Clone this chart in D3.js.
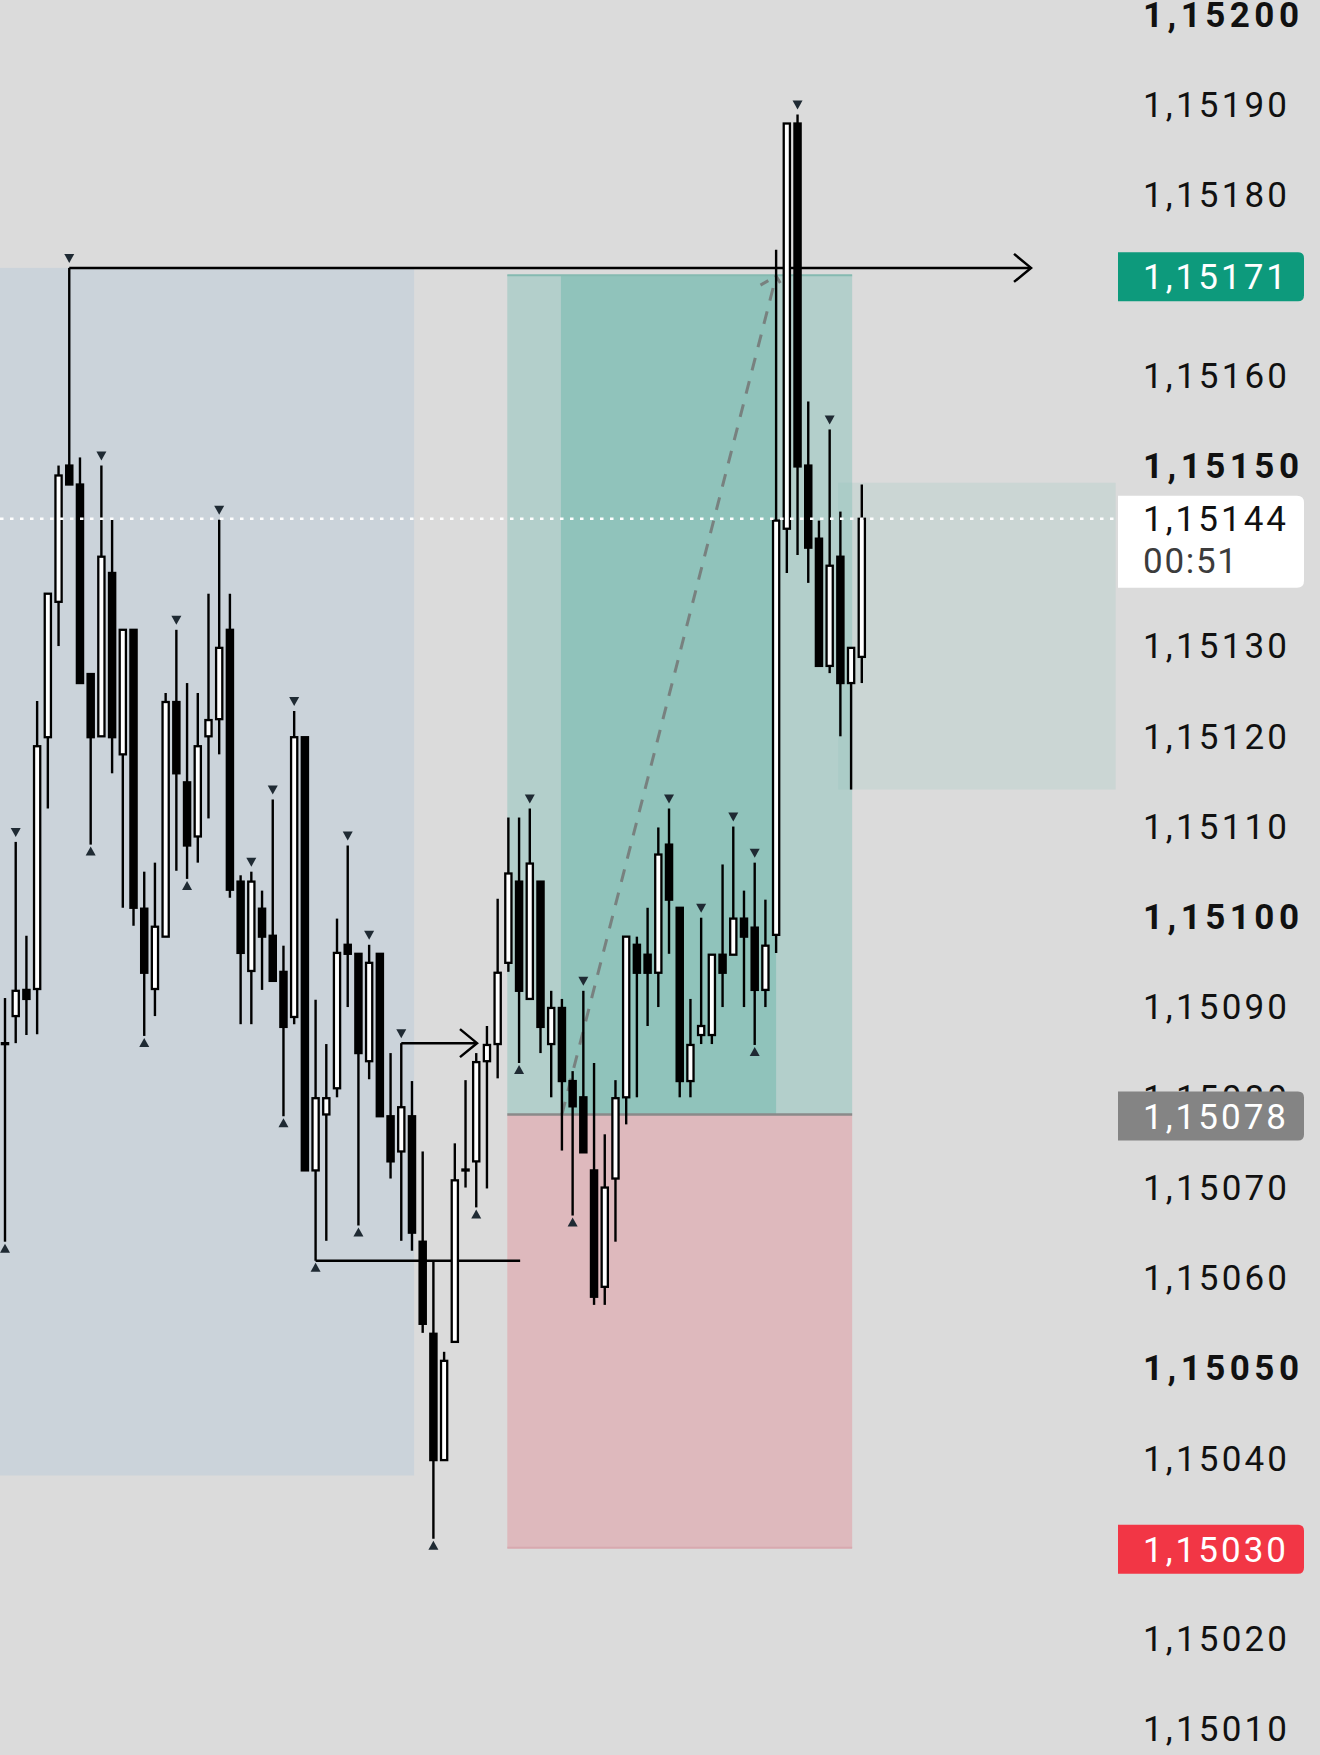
<!DOCTYPE html>
<html><head><meta charset="utf-8">
<script src="https://cdn.jsdelivr.net/npm/d3@7"></script>
<style>html,body{margin:0;padding:0;background:#dbdbdb;}svg{display:block;}</style>
</head><body>
<svg id="chart" width="1320" height="1755"></svg>
<script>
// ---- DATA (EURUSD-like, 81 bars) ----
const opens  = [1.150858,1.150889,1.150918,1.150919,1.151198,1.151348,1.151499,1.151478,1.151268,1.151199,1.151380,1.151179,1.151317,1.151008,1.150919,1.150977,1.151237,1.151148,1.151088,1.151199,1.151218,1.151317,1.151038,1.150939,1.151008,1.150978,1.150938,1.150888,1.151198,1.150718,1.150780,1.150809,1.150968,1.150958,1.150839,1.150958,1.150778,1.150739,1.150778,1.150639,1.150537,1.150397,1.150528,1.150718,1.150728,1.150839,1.150858,1.150948,1.151038,1.150908,1.151038,1.150858,1.150898,1.150817,1.150799,1.150718,1.150589,1.150709,1.150799,1.150968,1.150957,1.150937,1.151079,1.151009,1.150817,1.150868,1.150868,1.150957,1.150957,1.150997,1.150987,1.150918,1.150979,1.151429,1.151878,1.151499,1.151418,1.151277,1.151398,1.151258,1.151287];
const highs  = [1.150909,1.151082,1.150978,1.151238,1.151357,1.151499,1.151718,1.151508,1.151268,1.151499,1.151439,1.151317,1.151317,1.151049,1.151059,1.151247,1.151317,1.151258,1.151247,1.151357,1.151439,1.151357,1.151045,1.151049,1.151028,1.151129,1.150967,1.151227,1.151198,1.150907,1.150858,1.150997,1.151078,1.150958,1.150968,1.150958,1.150848,1.150859,1.150817,1.150739,1.150617,1.150517,1.150748,1.150818,1.150848,1.150878,1.151019,1.151109,1.151109,1.151119,1.151038,1.150917,1.150908,1.150828,1.150917,1.150837,1.150758,1.150818,1.150977,1.150977,1.151009,1.151098,1.151119,1.151009,1.150908,1.150998,1.150957,1.151057,1.151099,1.151028,1.151059,1.151018,1.151738,1.151878,1.151888,1.151570,1.151438,1.151539,1.151448,1.151297,1.151478];
const lows   = [1.150639,1.150859,1.150868,1.150869,1.151119,1.151299,1.151478,1.151258,1.151079,1.151199,1.151158,1.151009,1.150989,1.150867,1.150889,1.150977,1.151050,1.151041,1.151059,1.151108,1.151179,1.151020,1.150880,1.150880,1.150918,1.150928,1.150778,1.150880,1.150718,1.150618,1.150640,1.150799,1.150899,1.150657,1.150819,1.150778,1.150709,1.150640,1.150629,1.150538,1.150310,1.150397,1.150528,1.150699,1.150677,1.150698,1.150820,1.150938,1.150837,1.150908,1.150848,1.150799,1.150740,1.150668,1.150738,1.150569,1.150569,1.150639,1.150769,1.150799,1.150878,1.150899,1.150958,1.150799,1.150799,1.150858,1.150858,1.150899,1.150957,1.150899,1.150857,1.150899,1.150959,1.151380,1.151400,1.151369,1.151277,1.151269,1.151199,1.151140,1.151258];
const closes = [1.150859,1.150917,1.150908,1.151188,1.151357,1.151488,1.151478,1.151258,1.151198,1.151398,1.151198,1.151317,1.151009,1.150937,1.150988,1.151237,1.151158,1.151078,1.151188,1.151217,1.151297,1.151029,1.150959,1.151038,1.150977,1.150928,1.150877,1.151198,1.150718,1.150798,1.150798,1.150959,1.150958,1.150848,1.150948,1.150778,1.150728,1.150788,1.150649,1.150548,1.150397,1.150507,1.150707,1.150719,1.150838,1.150857,1.150937,1.151047,1.150917,1.151058,1.150877,1.150898,1.150817,1.150789,1.150738,1.150578,1.150699,1.150798,1.150977,1.150937,1.150937,1.151068,1.151018,1.150817,1.150857,1.150878,1.150957,1.150937,1.150997,1.150977,1.150918,1.150967,1.151438,1.151878,1.151498,1.151408,1.151277,1.151388,1.151258,1.151297,1.151440];

// fractal markers (bar indices)
const fractalHighs = [1,6,9,16,20,23,25,27,32,34,37,49,54,62,65,68,70,74,77];
const fractalLows  = [0,8,13,17,26,29,33,40,44,48,53,70];

// price axis
const tickValues = [1.15200,1.15190,1.15180,1.15170,1.15160,1.15150,1.15140,1.15130,1.15120,1.15110,1.15100,1.15090,1.15080,1.15070,1.15060,1.15050,1.15040,1.15030,1.15020,1.15010];
const hiddenTicks = [1.15170,1.15140,1.15030]; // covered by price tags

// drawings (bar index / price)
const rangeZone = {bar0:-2, bar1:38.2, top:1.151718, bottom:1.150380};
const position = {bar0:46.9, bar1:79.1, entryBar:52, exitBar:72, entry:1.15078, target:1.15171, stop:1.15030};
const statsZone = {bar0:77.8, bar1:103.7, top:1.15148, bottom:1.15114};
const rays = [
  {bar0:6, bar1:95.8, price:1.151718, arrow:true},
  {bar0:29, bar1:48.1, price:1.150618, arrow:false},
  {bar0:37, bar1:44.07, price:1.150859, arrow:true}
];
const lastPrice = 1.15144, countdown = "00:51";

// ---- SCALES ----
const svg = d3.select("#chart");
const x = d3.scaleLinear().domain([0, 80]).range([5, 861.8]);
const y = d3.scaleLinear().domain([1.15010, 1.15200]).range([1728.15, 13.4]);
const fmt = v => d3.format(".5f")(v).replace(".", ",");
const FONT = "Roboto, 'Noto Sans', sans-serif";

svg.append("rect").attr("width",1320).attr("height",1755).attr("fill","#dbdbdb");

// range zone (blue-gray)
svg.append("rect").attr("x", x(rangeZone.bar0)).attr("y", y(rangeZone.top))
  .attr("width", x(rangeZone.bar1)-x(rangeZone.bar0)).attr("height", y(rangeZone.bottom)-y(rangeZone.top))
  .attr("fill","#cbd3da");

// long position
const px0 = x(position.bar0), px1 = x(position.bar1);
svg.append("rect").attr("x",px0).attr("y",y(position.target)).attr("width",px1-px0)
  .attr("height",y(position.entry)-y(position.target)).attr("fill","#b3cfcb");
svg.append("rect").attr("x",x(position.entryBar)-1).attr("y",y(position.target))
  .attr("width",x(position.exitBar)-x(position.entryBar)+1).attr("height",y(position.entry)-y(position.target)).attr("fill","#90c3bb");
svg.append("rect").attr("x",px0).attr("y",y(position.entry)).attr("width",px1-px0)
  .attr("height",y(position.stop)-y(position.entry)).attr("fill","#deb9bd");
svg.append("line").attr("x1",px0).attr("x2",px1).attr("y1",y(position.target)).attr("y2",y(position.target))
  .attr("stroke","#85bab1").attr("stroke-width",2);
svg.append("line").attr("x1",px0).attr("x2",px1).attr("y1",y(position.stop)).attr("y2",y(position.stop))
  .attr("stroke","#d8a9af").attr("stroke-width",2);
svg.append("line").attr("x1",px0).attr("x2",px1).attr("y1",y(position.entry)).attr("y2",y(position.entry))
  .attr("stroke","#8a8a8a").attr("stroke-width",2.6);

// stats zone
svg.append("rect").attr("x",x(statsZone.bar0)).attr("y",y(statsZone.top))
  .attr("width",x(statsZone.bar1)-x(statsZone.bar0)).attr("height",y(statsZone.bottom)-y(statsZone.top))
  .attr("fill","rgba(140,195,185,0.2)");

// dashed projection with arrowhead
{
  const ax = x(position.entryBar), ay = y(position.entry), bx = x(position.exitBar), by = y(position.target)+1;
  const ang = Math.atan2(ay-by, ax-bx), L = 18;
  const w1 = [bx + L*Math.cos(ang+0.8), by + L*Math.sin(ang+0.8)];
  const w2 = [bx + L*Math.cos(ang-0.8), by + L*Math.sin(ang-0.8)];
  const g = svg.append("g").attr("stroke","#767a79").attr("stroke-width",3).attr("fill","none").attr("stroke-dasharray","13,11").attr("opacity",0.9);
  g.append("line").attr("x1",ax).attr("y1",ay).attr("x2",bx).attr("y2",by);
  g.append("path").attr("d",`M${w1[0]},${w1[1]} L${bx},${by} L${w2[0]},${w2[1]}`).attr("stroke-dasharray","9,8");
}

// rays
const rg = svg.append("g").attr("stroke","#000").attr("stroke-width",2.5).attr("fill","none");
rays.forEach(r => {
  const yy = y(r.price), x1 = x(r.bar1);
  rg.append("line").attr("x1",x(r.bar0)).attr("x2",x1).attr("y1",yy).attr("y2",yy);
  if (r.arrow) rg.append("path").attr("d",`M${x1-17},${yy-14} L${x1},${yy} L${x1-17},${yy+14}`);
});

// candles
const bars = opens.map((o,i)=>({i,o,h:highs[i],l:lows[i],c:closes[i]}));
const cg = svg.append("g");
cg.selectAll("line.wick").data(bars).join("line").attr("class","wick")
  .attr("x1",d=>x(d.i)).attr("x2",d=>x(d.i)).attr("y1",d=>y(d.h)).attr("y2",d=>y(d.l))
  .attr("stroke","#000").attr("stroke-width",2.4);
cg.selectAll("rect.body").data(bars).join("rect").attr("class","body")
  .each(function(d){
    const top = y(Math.max(d.o,d.c)), bot = y(Math.min(d.o,d.c));
    const h = Math.max(bot-top, 1);
    const s = d3.select(this);
    if (d.c >= d.o) {
      s.attr("x",x(d.i)-3.1).attr("width",6.2).attr("y",top).attr("height",h)
       .attr("fill","#fff").attr("stroke","#000").attr("stroke-width",2.3);
    } else {
      s.attr("x",x(d.i)-4.25).attr("width",8.5).attr("y",top-1.15).attr("height",h+2.3).attr("fill","#000");
    }
  });

// fractal markers
const mg = svg.append("g").attr("fill","#1f2a33");
fractalHighs.forEach(i => { const cx=x(i), yy=y(highs[i]);
  mg.append("path").attr("d",`M${cx-5},${yy-14} L${cx+5},${yy-14} L${cx},${yy-5} Z`); });
fractalLows.forEach(i => { const cx=x(i), yy=y(lows[i]);
  mg.append("path").attr("d",`M${cx-5},${yy+11} L${cx+5},${yy+11} L${cx},${yy+2} Z`); });

// last price dotted line
svg.append("line").attr("x1",0).attr("x2",x(statsZone.bar1)).attr("y1",y(lastPrice)).attr("y2",y(lastPrice))
  .attr("stroke","#fff").attr("stroke-width",2.6).attr("stroke-dasharray","3.5,6.5");

// axis labels
const isBold = v => Math.round(v*1e5) % 50 === 0;
const axis = d3.axisRight(y).tickValues(tickValues.filter(v=>!hiddenTicks.includes(v))).tickFormat(fmt).tickSize(0).tickPadding(0);
const ga = svg.append("g").attr("transform","translate(1143,0)").call(axis);
ga.select(".domain").remove();
ga.attr("font-family",FONT).attr("font-size",35);
ga.selectAll("text").attr("fill","#111").attr("dy","0.36em")
  .attr("font-weight",d=>isBold(d)?700:400)
  .attr("textLength",d=>isBold(d)?156:144).attr("lengthAdjust","spacing");

// price tags
function tagPath(x0,y0,w,h,r){return `M${x0},${y0} H${x0+w-r} Q${x0+w},${y0} ${x0+w},${y0+r} V${y0+h-r} Q${x0+w},${y0+h} ${x0+w-r},${y0+h} H${x0} Z`;}
const tags = [
  {price:position.target, fill:"#0d9a7c", text:"#fff"},
  {price:position.entry, fill:"#848484", text:"#fff"},
  {price:position.stop, fill:"#f23645", text:"#fff"}
];
tags.forEach(t => {
  const yy = y(t.price)+1.5;
  svg.append("path").attr("d",tagPath(1118,yy-24.5,186,49,6)).attr("fill",t.fill);
  svg.append("text").attr("x",1143).attr("y",yy).attr("dy","0.36em").attr("fill",t.text)
    .attr("font-family",FONT).attr("font-size",35).attr("textLength",143).attr("lengthAdjust","spacing").text(fmt(t.price));
});
{
  const yy = y(lastPrice);
  svg.append("path").attr("d",tagPath(1118,yy-23,186,92,7)).attr("fill","#fff");
  svg.append("text").attr("x",1143).attr("y",yy).attr("dy","0.36em").attr("fill","#111")
    .attr("font-family",FONT).attr("font-size",35).attr("textLength",143).attr("lengthAdjust","spacing").text(fmt(lastPrice));
  svg.append("text").attr("x",1143).attr("y",yy+42).attr("dy","0.36em").attr("fill","#3c3c3c")
    .attr("font-family",FONT).attr("font-size",35).attr("textLength",94).attr("lengthAdjust","spacing").text(countdown);
}
</script>
</body></html>
